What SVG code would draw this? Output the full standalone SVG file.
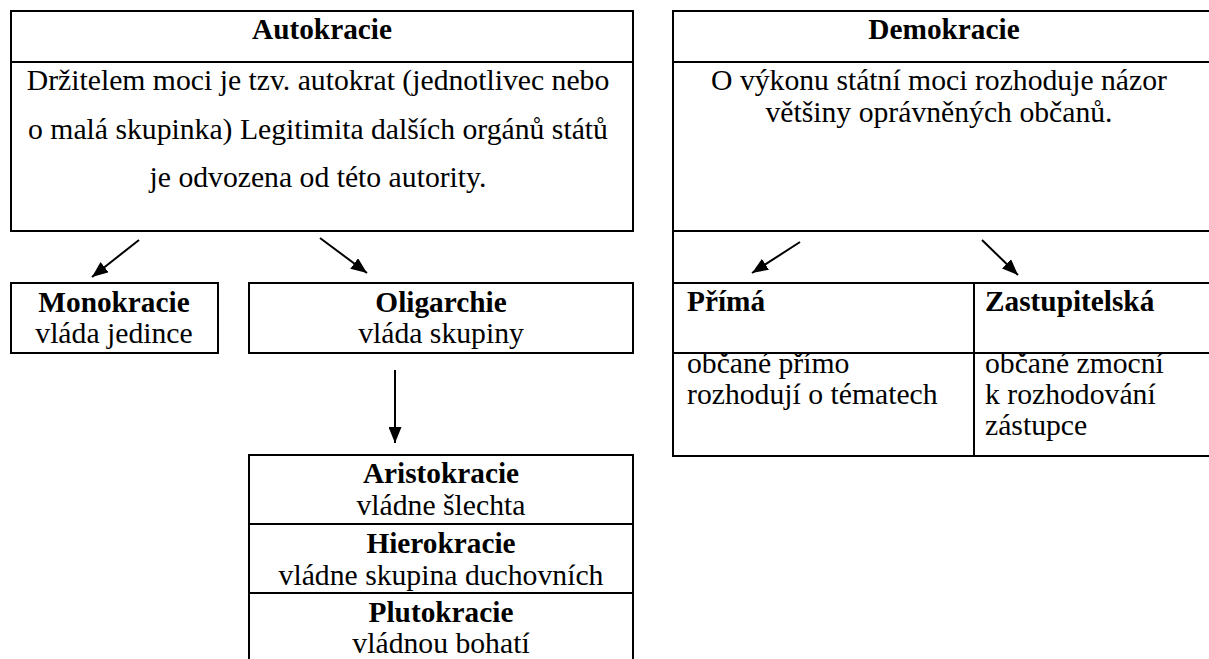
<svg xmlns="http://www.w3.org/2000/svg" width="1209" height="659" viewBox="0 0 1209 659">
<style>
.box{fill:none;stroke:#000;stroke-width:2}
.ln{stroke:#000;stroke-width:2;fill:none}
.t{font-family:"Liberation Serif","Times New Roman",serif;font-size:29.7px;fill:#000}
.b{font-weight:bold;font-size:29.3px}
.c{text-anchor:middle}
.arr{stroke:#000;stroke-width:2;fill:none;marker-end:url(#ah)}
</style>
<defs>
<marker id="ah" viewBox="0 0 16 13" refX="16" refY="6.5" markerWidth="16" markerHeight="13" markerUnits="userSpaceOnUse" orient="auto">
<path d="M0,0 L16,6.5 L0,13 z" fill="#000"/>
</marker>
</defs>
<rect width="1209" height="659" fill="#fff"/>
<g id="autokracie">
<rect class="box" x="11" y="11" width="622" height="220"/>
<line class="ln" x1="11" y1="62" x2="633" y2="62"/>
<text class="t b c" x="322" y="39">Autokracie</text>
<text class="t c" x="318" y="90">Držitelem moci je tzv. autokrat (jednotlivec nebo</text>
<text class="t c" x="318" y="139">o malá skupinka) Legitimita dalších orgánů států</text>
<text class="t c" x="318" y="187">je odvozena od této autority.</text>
</g>
<g id="demokracie">
<rect class="box" x="673" y="11" width="545" height="445"/>
<line class="ln" x1="673" y1="62" x2="1209" y2="62"/>
<line class="ln" x1="673" y1="231" x2="1209" y2="231"/>
<line class="ln" x1="673" y1="283" x2="1209" y2="283"/>
<line class="ln" x1="673" y1="353" x2="1209" y2="353"/>
<line class="ln" x1="974" y1="283" x2="974" y2="456"/>
<text class="t b c" x="944" y="39">Demokracie</text>
<text class="t c" x="939" y="90">O výkonu státní moci rozhoduje názor</text>
<text class="t c" x="939" y="122">většiny oprávněných občanů.</text>
</g>
<g id="prima">
<text class="t b" x="687" y="311">Přímá</text>
<text class="t" x="687" y="373">občané přímo</text>
<text class="t" x="687" y="404">rozhodují o tématech</text>
</g>
<g id="zastupitelska">
<text class="t b" x="985" y="311">Zastupitelská</text>
<text class="t" x="985" y="373">občané zmocní</text>
<text class="t" x="985" y="404">k rozhodování</text>
<text class="t" x="985" y="435">zástupce</text>
</g>
<g id="monokracie">
<rect class="box" x="11" y="283" width="207" height="70"/>
<text class="t b c" x="114" y="312">Monokracie</text>
<text class="t c" x="114" y="343">vláda jedince</text>
</g>
<g id="oligarchie">
<rect class="box" x="249" y="283" width="384" height="70"/>
<text class="t b c" x="441" y="312">Oligarchie</text>
<text class="t c" x="441" y="343">vláda skupiny</text>
</g>
<g id="oligarchie-types">
<rect class="box" x="249" y="455" width="384" height="215"/>
<line class="ln" x1="249" y1="524" x2="633" y2="524"/>
<line class="ln" x1="249" y1="593" x2="633" y2="593"/>
<text class="t b c" x="441" y="483">Aristokracie</text>
<text class="t c" x="441" y="515">vládne šlechta</text>
<text class="t b c" x="441" y="553">Hierokracie</text>
<text class="t c" x="441" y="585">vládne skupina duchovních</text>
<text class="t b c" x="441" y="622">Plutokracie</text>
<text class="t c" x="441" y="653">vládnou bohatí</text>
</g>
<g id="connectors">
<line class="arr" x1="139" y1="240" x2="92" y2="277"/>
<line class="arr" x1="320" y1="238" x2="367" y2="273"/>
<line class="arr" x1="395" y1="370" x2="395" y2="443"/>
<line class="arr" x1="800" y1="242" x2="752" y2="273"/>
<line class="arr" x1="982" y1="240" x2="1018" y2="275"/>
</g>
</svg>
